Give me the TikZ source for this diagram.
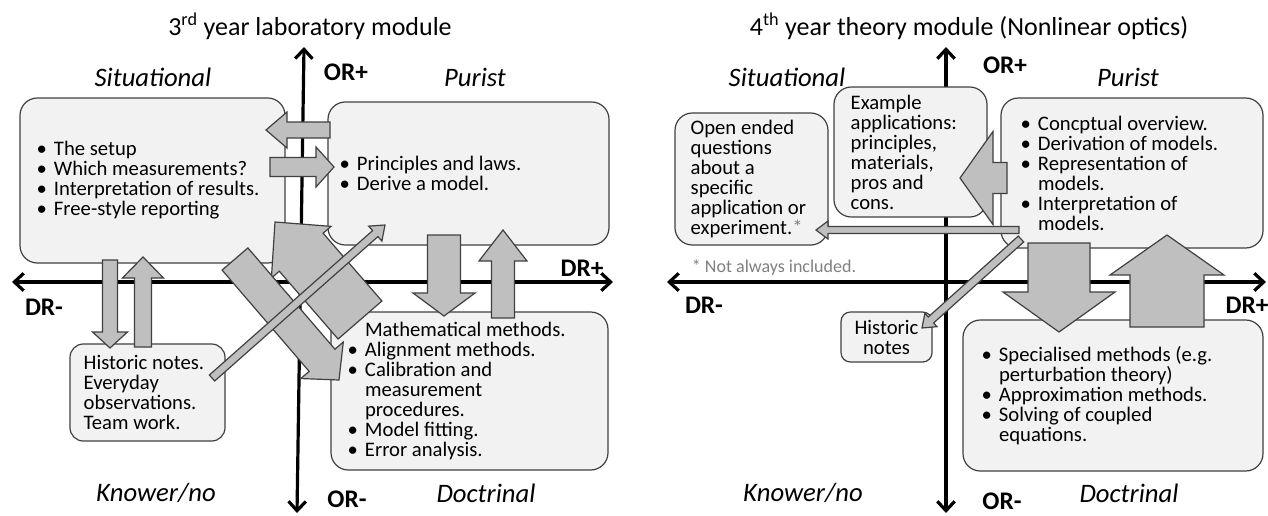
\documentclass[tikz,border=0pt]{standalone}
\usepackage{fontspec}
\setmainfont{Carlito}
\usetikzlibrary{positioning,arrows.meta,calc}
\definecolor{CardFill}{HTML}{F2F2F2}
\definecolor{CardLine}{HTML}{404040}
\definecolor{ArrowFill}{HTML}{BFBFBF}
\definecolor{ArrowLine}{HTML}{404040}
\definecolor{NoteGray}{HTML}{808080}
\newcommand{\bodyfont}{\fontsize{15.5}{15}\selectfont\lineskiplimit=-20pt}
\newcommand{\bl}{\makebox[13pt][l]{\textbullet}}
\newcommand{\ct}{\hspace*{13pt}}
% block arrow: tail, tip, shaft half width, head half width, head length
\newcommand{\blockarrow}[5]{\draw[blockarr] ($(#1)!#3!90:(#2)$) -- ($(#2)!#5!(#1)!#3!-90:(#1)$) -- ($(#2)!#5!(#1)!#4!-90:(#1)$) -- (#2) -- ($(#2)!#5!(#1)!#4!90:(#1)$) -- ($(#2)!#5!(#1)!#3!90:(#1)$) -- ($(#1)!#3!-90:(#2)$) -- cycle;}

\begin{document}
\begin{tikzpicture}[x=0.75pt,y=-0.75pt,
  card/.style={draw=CardLine,fill=CardFill,rounded corners=13pt,line width=0.9pt,inner sep=0pt},
  cardtext/.style={font=\bodyfont,align=left,inner sep=0pt},
  blockarr/.style={draw=ArrowLine,fill=ArrowFill,line width=0.9pt,line join=miter},
  axis/.style={line width=2.4pt,{Straight Barb[length=7pt,width=13pt]}-{Straight Barb[length=7pt,width=13pt]}},
  ttl/.style={font=\fontsize{19.5}{23}\selectfont},
  quad/.style={font=\fontsize{20}{24}\selectfont\itshape},
  axlab/.style={font=\fontsize{19}{22}\selectfont\bfseries}]
  \fill[white] (0,0) rectangle (1268,515);
  \useasboundingbox (0,0) rectangle (1268,515);

  % ---- 3rd year laboratory module
  \coordinate (lorp) at (304,47);
  \coordinate (lorm) at (297,513);
  \coordinate (ldrm) at (12,282);
  \coordinate (ldrp) at (613,282);
  \draw[axis] (lorm) -- (lorp);
  \draw[axis] (ldrm) -- (ldrp);
  \node[ttl] (labttl) at (310,26) {3\textsuperscript{rd} year laboratory module};
  \node[axlab] (labor) at (346,72) {OR+};
  \node[axlab] (labormin) at (347,499) {OR-};
  \node[axlab] (labdr) at (582,268) {DR+};
  \node[axlab] (labdrmin) at (44,307) {DR-};
  \node[quad] (labsitlab) at (153,77) {Situational};
  \node[quad] (labpurlab) at (475,77) {Purist};
  \node[quad] (labknolab) at (156,493) {Knower/no};
  \node[quad] (labdoclab) at (486,493) {Doctrinal};

  \node[card,minimum width=198.75pt,minimum height=123.75pt] (labsit) at (152.5,180.5) {};
  \node[cardtext,anchor=west] (labsittxt) at ([xshift=12.75pt]labsit.west) {\bl The setup\\\bl Which measurements?\\\bl Interpretation of results.\\\bl Free-style reporting};
  \node[card,minimum width=210.75pt,minimum height=107.25pt] (labpur) at (468.5,173.5) {};
  \node[cardtext,anchor=west] (labpurtxt) at ([xshift=9pt]labpur.west) {\bl Principles and laws.\\\bl Derive a model.};
  \node[card,minimum width=207.75pt,minimum height=118.5pt] (labdoc) at (469.5,391) {};
  \node[cardtext,anchor=west] (labdoctxt) at ([xshift=12.75pt]labdoc.west) {\ct Mathematical methods.\\\bl Alignment methods.\\\bl Calibration and\\\ct measurement\\\ct procedures.\\\bl Model fitting.\\\bl Error analysis.};
  \node[card,rounded corners=10pt,minimum width=116.25pt,minimum height=72.75pt] (labhis) at (147.5,392.5) {};
  \node[cardtext,anchor=west] (labhistxt) at ([xshift=10.5pt]labhis.west) {Historic notes.\\Everyday\\observations.\\Team work.};

  \coordinate (la1s) at (330,130); \coordinate (la1e) at (266,130);
  \coordinate (la2s) at (270,167); \coordinate (la2e) at (334,167);
  \coordinate (la3s) at (110,260); \coordinate (la3e) at (110,348);
  \coordinate (la4s) at (143,347); \coordinate (la4e) at (143,257);
  \coordinate (la5s) at (444,235); \coordinate (la5e) at (444,316);
  \coordinate (la6s) at (503,318); \coordinate (la6e) at (503,230);
  \coordinate (lbs) at (360,320); \coordinate (lbe) at (275,222);
  \coordinate (las) at (235,259); \coordinate (lae) at (339,380);
  \coordinate (lts) at (212,378); \coordinate (lte) at (385,225);
  \blockarrow{la1s}{la1e}{6pt}{13.5pt}{15.75pt}
  \blockarrow{la2s}{la2e}{7.1pt}{15pt}{13.5pt}
  \blockarrow{la3s}{la3e}{5.6pt}{13.1pt}{12pt}
  \blockarrow{la4s}{la4e}{6.4pt}{15.4pt}{15.75pt}
  \blockarrow{la5s}{la5e}{12.4pt}{23.25pt}{17.25pt}
  \blockarrow{la6s}{la6e}{8.6pt}{18pt}{23.25pt}
  \blockarrow{lbs}{lbe}{21.75pt}{29.6pt}{30pt}
  \blockarrow{las}{lae}{12.75pt}{21pt}{19.5pt}
  \blockarrow{lts}{lte}{3pt}{7.5pt}{9.75pt}

  % ---- 4th year theory module
  \coordinate (torp) at (946,47);
  \coordinate (torm) at (946,513);
  \coordinate (tdrm) at (667,282);
  \coordinate (tdrp) at (1266,282);
  \draw[axis] (torm) -- (torp);
  \draw[axis] (tdrm) -- (tdrp);
  \node[ttl] (thyttl) at (969,26) {4\textsuperscript{th} year theory module (Nonlinear optics)};
  \node[axlab] (thyor) at (1005,65) {OR+};
  \node[axlab] (thyormin) at (1002,501) {OR-};
  \node[axlab] (thydr) at (1247,305) {DR+};
  \node[axlab] (thydrmin) at (704,305) {DR-};
  \node[quad] (thysitlab) at (787,77) {Situational};
  \node[quad] (thypurlab) at (1128,77) {Purist};
  \node[quad] (thyknolab) at (803,493) {Knower/no};
  \node[quad] (thydoclab) at (1129,493) {Doctrinal};
  \node[font=\fontsize{13.5}{16}\selectfont,text=NoteGray] (thynote) at (774,268) {* Not always included.};

  \node[card,minimum width=114.75pt,minimum height=97.5pt] (thyex) at (910.5,152) {};
  \node[cardtext,anchor=west] (thyextxt) at ([xshift=12.75pt]thyex.west) {Example\\applications:\\principles,\\materials,\\pros and\\cons.};
  \node[card,minimum width=114.75pt,minimum height=99pt] (thyopen) at (751.5,179) {};
  \node[cardtext,anchor=west] (thyopentxt) at ([xshift=12pt]thyopen.west) {Open ended\\questions\\about a\\specific\\application or\\experiment.\textcolor{NoteGray}{*}};
  \node[card,minimum width=196.5pt,minimum height=112.5pt] (thypur) at (1132,173) {};
  \node[cardtext,anchor=west] (thypurtxt) at ([xshift=15pt]thypur.west) {\bl Concptual overview.\\\bl Derivation of models.\\\bl Representation of\\\ct models.\\\bl Interpretation of\\\ct models.};
  \node[card,minimum width=225pt,minimum height=113.25pt] (thydoc) at (1113,395.5) {};
  \node[cardtext,anchor=west] (thydoctxt) at ([xshift=14.25pt]thydoc.west) {\bl Specialised methods (e.g.\\\ct perturbation theory)\\\bl Approximation methods.\\\bl Solving of coupled\\\ct equations.};
  \node[card,rounded corners=7pt,minimum width=68.25pt,minimum height=37.5pt,font=\bodyfont,align=center] (thyhis) at (886.5,337) {Historic\\notes};

  \coordinate (ra1s) at (1007,178); \coordinate (ra1e) at (960,178);
  \coordinate (ra2s) at (1059,243); \coordinate (ra2e) at (1059,332);
  \coordinate (ra3s) at (1167,327); \coordinate (ra3e) at (1167,235);
  \coordinate (rt1s) at (1019,230); \coordinate (rt1e) at (816,230);
  \coordinate (rt2s) at (1021,239); \coordinate (rt2e) at (922,328);
  \blockarrow{ra1s}{ra1e}{11.6pt}{34.9pt}{24.75pt}
  \blockarrow{ra2s}{ra2e}{23.25pt}{42pt}{30pt}
  \blockarrow{ra3s}{ra3e}{27.75pt}{42.75pt}{30pt}
  \blockarrow{rt1s}{rt1e}{2.6pt}{6.75pt}{9pt}
  \blockarrow{rt2s}{rt2e}{3pt}{6.75pt}{9pt}
\end{tikzpicture}
\end{document}
